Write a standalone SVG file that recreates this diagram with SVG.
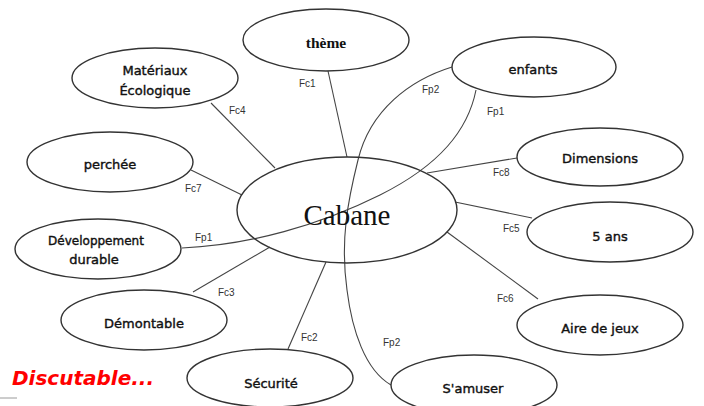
<svg xmlns="http://www.w3.org/2000/svg" width="704" height="406" viewBox="0 0 704 406">
  <style>
    .node { fill: #ffffff; stroke: #333333; stroke-width: 1.4; }
    .hub { fill: none; stroke: #333333; stroke-width: 1.4; }
    .link { fill: none; stroke: #444444; stroke-width: 1.1; }
    .lbl { font-family: "DejaVu Sans", "Liberation Sans", sans-serif; font-size: 13px; fill: #111; stroke: #111; stroke-width: 0.4; text-anchor: middle; }
    .tag { font-family: "Liberation Sans", Arial, sans-serif; font-size: 10px; fill: #333; }
  </style>

  <!-- connectors -->
  <g id="connectors">
    <line class="link" x1="328" y1="71" x2="347" y2="157"/>
    <line class="link" x1="211" y1="103" x2="275" y2="168"/>
    <line class="link" x1="191" y1="170" x2="242" y2="195"/>
    <line class="link" x1="517" y1="158" x2="427" y2="173"/>
    <line class="link" x1="532" y1="218" x2="455" y2="202"/>
    <line class="link" x1="538" y1="299" x2="447" y2="232"/>
    <line class="link" x1="193" y1="292" x2="270" y2="247"/>
    <line class="link" x1="288" y1="349" x2="326" y2="262"/>
    <!-- Fp2 : enfants - S'amuser -->
    <path class="link" d="M452,67 C410,80 370,110 358,160 C348,200 340,240 347,290 C352,330 365,370 391,385"/>
    <!-- Fp1 : enfants - Développement durable -->
    <path class="link" d="M476,90 C468,130 440,165 380,195 C320,225 250,245 182,248"/>

    <text class="tag" x="299" y="87">Fc1</text>
    <text class="tag" x="229" y="114">Fc4</text>
    <text class="tag" x="422" y="93">Fp2</text>
    <text class="tag" x="487" y="115">Fp1</text>
    <text class="tag" x="185" y="192">Fc7</text>
    <text class="tag" x="493" y="176">Fc8</text>
    <text class="tag" x="195" y="241">Fp1</text>
    <text class="tag" x="503" y="232">Fc5</text>
    <text class="tag" x="218" y="296">Fc3</text>
    <text class="tag" x="497" y="302">Fc6</text>
    <text class="tag" x="301" y="341">Fc2</text>
    <text class="tag" x="383" y="346">Fp2</text>
  </g>

  <!-- central node -->
  <g id="cabane">
    <ellipse class="hub" cx="347" cy="210" rx="110" ry="53"/>
    <text x="347" y="225" text-anchor="middle" font-family="'Liberation Serif', 'Times New Roman', serif" font-size="29" fill="#111">Cabane</text>
  </g>

  <g id="theme">
    <ellipse class="node" cx="326" cy="40" rx="83" ry="31"/>
    <text x="326" y="48" text-anchor="middle" font-family="'Liberation Serif', serif" font-weight="bold" font-size="15.5" fill="#111">thème</text>
  </g>

  <g id="enfants">
    <ellipse class="node" cx="534" cy="67" rx="82" ry="30"/>
    <text class="lbl" x="533" y="74">enfants</text>
  </g>

  <g id="materiaux">
    <ellipse class="node" cx="155" cy="78" rx="83" ry="30"/>
    <text class="lbl" x="155" y="75">Matériaux</text>
    <text class="lbl" x="155" y="95">Écologique</text>
  </g>

  <g id="perchee">
    <ellipse class="node" cx="110" cy="162" rx="83" ry="30"/>
    <text class="lbl" x="110" y="169">perchée</text>
  </g>

  <g id="developpement">
    <ellipse class="node" cx="98" cy="249" rx="83" ry="30"/>
    <text class="lbl" x="96" y="245" style="font-size:12px">Développement</text>
    <text class="lbl" x="94" y="264">durable</text>
  </g>

  <g id="demontable">
    <ellipse class="node" cx="144" cy="320" rx="83" ry="30"/>
    <text class="lbl" x="144" y="328">Démontable</text>
  </g>

  <g id="securite">
    <ellipse class="node" cx="270" cy="378" rx="83" ry="29"/>
    <text class="lbl" x="271" y="388">Sécurité</text>
  </g>

  <g id="samuser">
    <ellipse class="node" cx="474" cy="385" rx="83" ry="30"/>
    <text class="lbl" x="473" y="393">S'amuser</text>
  </g>

  <g id="aire">
    <ellipse class="node" cx="600" cy="325" rx="83" ry="30"/>
    <text class="lbl" x="600" y="333">Aire de jeux</text>
  </g>

  <g id="cinq-ans">
    <ellipse class="node" cx="610" cy="232" rx="83" ry="30"/>
    <text class="lbl" x="610" y="241">5 ans</text>
  </g>

  <g id="dimensions">
    <ellipse class="node" cx="600" cy="157" rx="83" ry="29"/>
    <text class="lbl" x="600" y="163">Dimensions</text>
  </g>

  <!-- annotation -->
  <text x="12" y="385" font-family="'DejaVu Sans', Verdana, sans-serif" font-weight="bold" font-style="italic" font-size="20" fill="#ff0000">Discutable...</text>
  <line x1="0" y1="398" x2="17" y2="398" stroke="#9a9a9a" stroke-width="1"/>
</svg>
